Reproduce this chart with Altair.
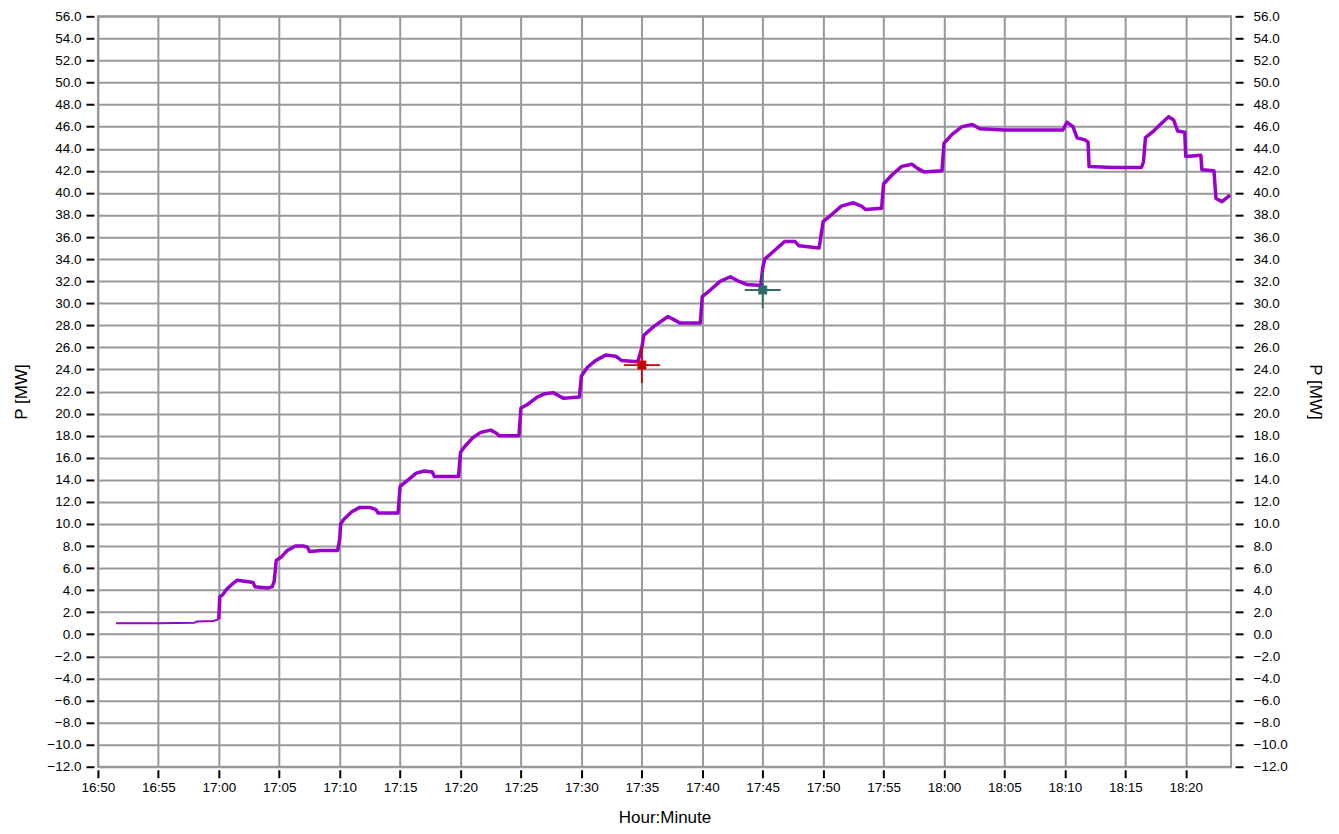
import altair as alt
import pandas as pd

# ---- data ----
times = [
    "16:51:30", "16:55:00", "16:58:00", "16:58:10", "16:59:30", "16:59:50", "17:00:00",
    "17:00:05", "17:00:20", "17:00:40", "17:01:10", "17:01:30", "17:02:10", "17:02:50", "17:03:00",
    "17:04:00", "17:04:25", "17:04:35", "17:04:45", "17:05:10", "17:05:40", "17:06:20", "17:07:00",
    "17:07:20", "17:07:30", "17:08:30", "17:09:50", "17:10:00", "17:10:05", "17:10:20", "17:11:00",
    "17:11:40", "17:12:30", "17:13:00", "17:13:10", "17:14:50", "17:15:00", "17:15:40", "17:16:20",
    "17:17:00", "17:17:40", "17:17:50", "17:19:50", "17:20:00", "17:20:20", "17:21:00", "17:21:40",
    "17:22:30", "17:23:00", "17:23:10", "17:24:50", "17:25:00", "17:25:30", "17:26:20", "17:27:00",
    "17:27:40", "17:28:10", "17:28:30", "17:29:50", "17:30:00", "17:30:30", "17:31:10", "17:32:00",
    "17:32:50", "17:33:20", "17:34:40", "17:35:00", "17:35:10", "17:36:00", "17:37:10", "17:37:50",
    "17:38:10", "17:39:50", "17:40:00", "17:40:40", "17:41:30", "17:42:20", "17:43:00", "17:43:40",
    "17:44:50", "17:45:00", "17:45:10", "17:46:00", "17:46:50", "17:47:40", "17:48:00", "17:49:40",
    "17:50:00", "17:50:40", "17:51:30", "17:52:30", "17:53:10", "17:53:30", "17:54:50", "17:55:00",
    "17:55:40", "17:56:30", "17:57:20", "17:57:50", "17:58:20", "17:59:50", "18:00:00", "18:00:40",
    "18:01:30", "18:02:20", "18:03:00", "18:05:00", "18:08:00", "18:09:50", "18:10:10", "18:10:40",
    "18:11:00", "18:11:40", "18:11:55", "18:12:00", "18:14:00", "18:16:20", "18:16:30", "18:16:40",
    "18:17:20", "18:18:00", "18:18:35", "18:19:00", "18:19:20", "18:19:55", "18:20:00", "18:21:15",
    "18:21:20", "18:22:20", "18:22:30", "18:23:00", "18:23:40",
]
power = [
    1.0, 1.0, 1.05, 1.15, 1.2, 1.3, 1.4,
    3.4, 3.6, 4.1, 4.6, 4.9, 4.8, 4.7, 4.3,
    4.2, 4.3, 4.8, 6.7, 7.0, 7.6, 8.0, 8.0,
    7.9, 7.5, 7.6, 7.6, 8.6, 10.0, 10.4, 11.1,
    11.5, 11.5, 11.3, 11.0, 11.0, 13.4, 14.0, 14.6,
    14.8, 14.7, 14.3, 14.3, 16.5, 17.0, 17.8, 18.3,
    18.5, 18.2, 18.0, 18.0, 20.5, 20.8, 21.5, 21.8,
    21.9, 21.6, 21.4, 21.5, 23.4, 24.2, 24.8, 25.3,
    25.2, 24.8, 24.7, 26.0, 27.1, 27.9, 28.8, 28.4,
    28.2, 28.2, 30.6, 31.2, 32.0, 32.4, 32.0, 31.7,
    31.6, 33.2, 34.0, 34.8, 35.6, 35.6, 35.2, 35.0,
    37.4, 38.0, 38.8, 39.1, 38.8, 38.5, 38.6, 40.8,
    41.6, 42.4, 42.6, 42.2, 41.9, 42.0, 44.5, 45.3,
    46.0, 46.2, 45.8, 45.7, 45.7, 45.7, 46.4, 46.0,
    45.0, 44.8, 44.6, 42.4, 42.3, 42.3, 42.8, 45.0,
    45.6, 46.3, 46.9, 46.6, 45.6, 45.5, 43.3, 43.4,
    42.1, 42.0, 39.5, 39.2, 39.8,
]

marker_times = ["17:35:00", "17:45:00"]
marker_values = [24.4, 31.2]
marker_colors = ["#cc0000", "#2f6b6b"]

y_ticks = [-12, -10, -8, -6, -4, -2, 0, 2, 4, 6, 8, 10, 12, 14, 16, 18, 20, 22, 24, 26,
           28, 30, 32, 34, 36, 38, 40, 42, 44, 46, 48, 50, 52, 54, 56]
x_tick_labels = ["16:50", "16:55", "17:00", "17:05", "17:10", "17:15", "17:20", "17:25",
                 "17:30", "17:35", "17:40", "17:45", "17:50", "17:55", "18:00", "18:05",
                 "18:10", "18:15", "18:20"]

DAY = "2024-01-01T"

# two series: thin idle part, thicker (noisy) running part
split = times.index("17:00:00")
rows = []
for i, (t, p) in enumerate(zip(times, power)):
    if i <= split:
        rows.append({"t": DAY + t, "p": p, "seg": "a", "w": 2.0})
    if i >= split:
        rows.append({"t": DAY + t, "p": p, "seg": "b", "w": 3.5})
df = pd.DataFrame(rows)

mdf = pd.DataFrame({"t": [DAY + t for t in marker_times], "p": marker_values, "c": marker_colors})


def dt(h, m, s=0):
    return alt.DateTime(year=2024, month=1, date=1, hours=h, minutes=m, seconds=s)


x_vals = [dt(int(s[:2]), int(s[3:])) for s in x_tick_labels]

FONT = "Liberation Sans"

x_enc = alt.X(
    "t:T",
    scale=alt.Scale(domain=[dt(16, 50), dt(18, 23, 45)], nice=False),
    axis=alt.Axis(
        values=x_vals, format="%H:%M", title="Hour:Minute", grid=True,
        tickSize=8, tickWidth=2, tickColor="black", offset=3, domain=False,
        labelPadding=3, labelFlush=False, labelOverlap=False, titlePadding=15,
    ),
)

y_scale = alt.Scale(domain=[-12, 56], nice=False, zero=False)

line = alt.Chart(df).mark_line(color="#9900cc", strokeJoin="round").encode(
    x=x_enc,
    y=alt.Y(
        "p:Q", scale=y_scale,
        axis=alt.Axis(
            values=y_ticks, format=".1f", title="P [MW]", orient="left", grid=True,
            tickSize=8, tickWidth=2, tickColor="black", offset=4, domain=False,
            labelPadding=5, labelFlush=False, labelOverlap=False, titlePadding=16,
        ),
    ),
    detail="seg:N",
    strokeWidth=alt.StrokeWidth("w:Q", scale=None, legend=None),
)

cross = alt.Chart(mdf).mark_point(
    shape="M-1,0L1,0M0,-1L0,1", filled=False, size=1300, strokeWidth=1.8, opacity=1
).encode(
    x=x_enc,
    y=alt.Y(
        "p:Q", scale=y_scale,
        axis=alt.Axis(
            values=y_ticks, format=".1f", title="P [MW]", orient="right", grid=False,
            tickSize=8, tickWidth=2, tickColor="black", offset=4, domain=False,
            labelPadding=10, labelFlush=False, labelOverlap=False, titlePadding=18,
        ),
    ),
    stroke=alt.Stroke("c:N", scale=None, legend=None),
)

square = alt.Chart(mdf).mark_point(
    shape="square", filled=True, size=80, opacity=1
).encode(
    x=x_enc,
    y=alt.Y("p:Q", scale=y_scale, axis=None),
    fill=alt.Fill("c:N", scale=None, legend=None),
)

chart = (
    alt.layer(line, cross, square)
    .resolve_axis(y="independent")
    .properties(
        width=1134, height=751,
        autosize=alt.AutoSizeParams(type="none"),
        padding={"left": 90, "top": 8, "right": 100, "bottom": 60},
        background="white",
    )
    .configure_view(stroke="#9a9a9a", strokeWidth=2)
    .configure_axis(
        gridColor="#999999", gridWidth=2, gridOpacity=1,
        labelFont=FONT, labelFontSize=13.5, labelColor="black",
        titleFont=FONT, titleFontSize=17, titleFontWeight="normal", titleColor="black",
    )
)

chart.save("out.html", embed_options={"renderer": "svg", "actions": False})
